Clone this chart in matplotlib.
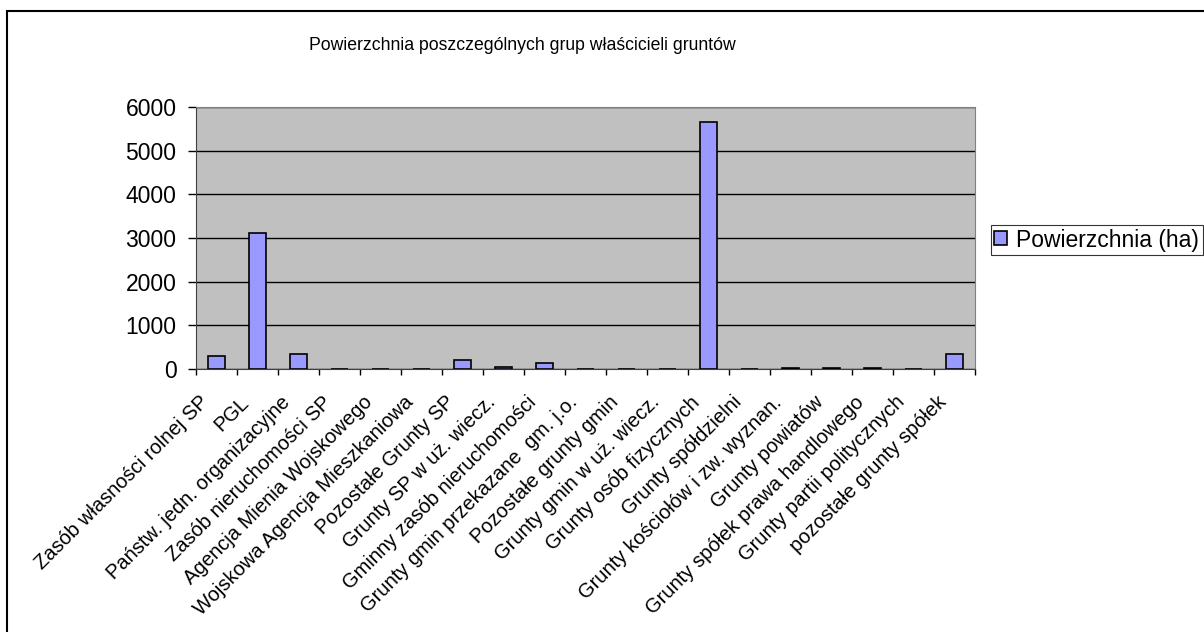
import numpy as np
import matplotlib
matplotlib.use("Agg")
from matplotlib import pyplot as plt
from matplotlib.patches import Rectangle
from matplotlib.transforms import ScaledTranslation

plt.rcParams['font.family'] = ['Liberation Sans', 'DejaVu Sans']

categories = ["Zasób własności rolnej SP", "PGL", "Państw. jedn. organizacyjne",
              "Zasób nieruchomości SP", "Agencja Mienia Wojskowego",
              "Wojskowa Agencja Mieszkaniowa", "Pozostałe Grunty SP",
              "Grunty SP w uż. wiecz.", "Gminny zasób nieruchomości",
              "Grunty gmin przekazane  gm. j.o.", "Pozostałe grunty gmin",
              "Grunty gmin w uż. wiecz.", "Grunty osób fizycznych",
              "Grunty spółdzielni", "Grunty kościołów i zw. wyznan.",
              "Grunty powiatów", "Grunty spółek prawa handlowego",
              "Grunty partii politycznych", "pozostałe grunty spółek"]
area_ha = [297, 3110, 336, 0, 0, 0, 199, 35, 135, 0, 0, 0, 5660, 0, 30, 30, 30, 0, 336]
yticks = [0, 1000, 2000, 3000, 4000, 5000, 6000]

W, H = 1204, 632
fig = plt.figure(figsize=(W / 100, H / 100), dpi=100)
ax = fig.add_axes([196 / W, 1 - 369 / H, (975 - 196) / W, (369 - 107) / H])

x = np.arange(len(categories))
ax.bar(x, area_ha, width=0.4, color="#9999FF", edgecolor="black", linewidth=1.2,
       label="Powierzchnia (ha)", zorder=3)

ax.set_facecolor("#C0C0C0")
ax.set_xlim(-0.5, len(categories) - 0.5)
ax.set_ylim(0, 6000)
ax.set_yticks(yticks)
ax.yaxis.grid(True, color="black", linewidth=1, zorder=1)
ax.tick_params(axis="y", labelsize=16.5, length=6, width=1, direction="out", pad=8)

# ticks between categories, labels at category centres
ax.set_xticks(np.arange(len(categories) + 1) - 0.5)
ax.set_xticklabels([])
ax.set_xticks(x, minor=True)
ax.set_xticklabels(categories, minor=True, rotation=45, ha="right",
                   rotation_mode="anchor", fontsize=14.5)
ax.tick_params(axis="x", which="major", length=4.5, width=1, direction="out")
ax.tick_params(axis="x", which="minor", length=0, pad=17)
shift = ScaledTranslation(-18 / 100, 0, fig.dpi_scale_trans)
for lbl in ax.get_xticklabels(minor=True):
    lbl.set_transform(lbl.get_transform() + shift)

for side in ["top", "right"]:
    ax.spines[side].set_color("#808080")
ax.spines["left"].set_color("#404040")
ax.spines["bottom"].set_color("#404040")

fig.text(522 / W, 1 - 45 / H, "Powierzchnia poszczególnych grup właścicieli gruntów",
         ha="center", va="center", fontsize=12.7)

leg = ax.legend(loc="center left", bbox_to_anchor=(991 / W, 1 - 240 / H),
                bbox_transform=fig.transFigure, fontsize=16.5, frameon=True,
                fancybox=False, edgecolor="black", handlelength=0.55,
                handleheight=0.55, handletextpad=0.4, borderpad=0.15,
                borderaxespad=0)
leg.get_frame().set_linewidth(0.8)

# outer chart border (extends past the right and bottom edges)
fig.patches.append(Rectangle((7 / W, -0.05), 1.1, 1 - 11 / H + 0.05,
                             transform=fig.transFigure, fill=False,
                             edgecolor="black", linewidth=1.5))

fig.savefig("out.png", dpi=100, facecolor="white")
